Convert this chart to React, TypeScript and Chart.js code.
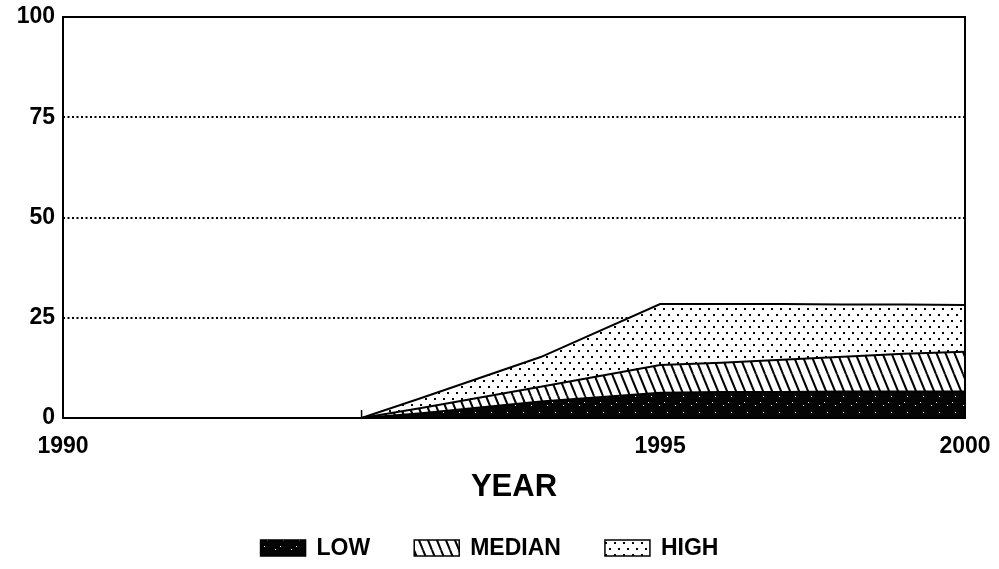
import { useEffect, useRef } from "react";
import { Chart, registerables, LinearScale } from "chart.js";

// ---- data ----
const YEARS = [1990, 1991, 1992, 1992.5, 1993, 1994, 1995, 1996, 1997, 1998, 1999, 2000];
const LOW = [0, 0, 0, 0, 1.2, 4.1, 6.3, 6.5, 6.5, 6.6, 6.6, 6.6];
const MEDIAN = [0, 0, 0, 0, 2.5, 7.8, 13.2, 13.8, 14.5, 15.3, 16.0, 16.5];
const HIGH = [0, 0, 0, 0, 5.0, 15.2, 28.4, 28.4, 28.4, 28.3, 28.3, 28.2];
const SERIES_NAMES = ["LOW", "MEDIAN", "HIGH"];
const X_TICKS = [1990, 1995, 2000];
const Y_TICKS = [0, 25, 50, 75, 100];
const X_TITLE = "YEAR";

// the original x axis is not linear in years: 1995 sits at ~66% of the width
const AXIS_BREAKS = [1990, 1995, 2000];
const AXIS_FRACTIONS = [0, 0.662, 1];

const FONT = "'Liberation Sans', Arial, Helvetica, sans-serif";

function yearToFraction(v: number): number {
  const b = AXIS_BREAKS, f = AXIS_FRACTIONS;
  if (v <= b[0]) return f[0] + ((v - b[0]) / (b[1] - b[0])) * (f[1] - f[0]);
  for (let i = 0; i < b.length - 1; i++) {
    if (v <= b[i + 1]) return f[i] + ((v - b[i]) / (b[i + 1] - b[i])) * (f[i + 1] - f[i]);
  }
  const n = b.length - 1;
  return f[n - 1] + ((v - b[n - 1]) / (b[n] - b[n - 1])) * (f[n] - f[n - 1]);
}
function fractionToYear(d: number): number {
  const b = AXIS_BREAKS, f = AXIS_FRACTIONS;
  for (let i = 0; i < f.length - 1; i++) {
    if (d <= f[i + 1] || i === f.length - 2) return b[i] + ((d - f[i]) / (f[i + 1] - f[i])) * (b[i + 1] - b[i]);
  }
  return b[b.length - 1];
}

class BrokenYearScale extends LinearScale {
  static id = "brokenYear";
  getPixelForValue(value: any) {
    if (value === null || value === undefined) return NaN;
    return this.getPixelForDecimal(yearToFraction(value));
  }
  getValueForPixel(pixel: number) {
    return fractionToYear(this.getDecimalForPixel(pixel));
  }
}

Chart.register(...registerables, BrokenYearScale as any);

function makePattern(kind: string): CanvasPattern | string {
  const c = document.createElement("canvas");
  const g = c.getContext("2d");
  if (!g) return "#000";
  if (kind === "low") {
    c.width = 16; c.height = 16;
    g.fillStyle = "#050505"; g.fillRect(0, 0, 16, 16);
    g.fillStyle = "#ffffff";
    g.fillRect(3, 5, 1, 1); g.fillRect(11, 12, 1, 1); g.fillRect(8, 2, 1, 1);
  } else if (kind === "median") {
    c.width = 9; c.height = 22;
    g.fillStyle = "#ffffff"; g.fillRect(0, 0, 9, 22);
    g.strokeStyle = "#000"; g.lineWidth = 2;
    for (let k = -1; k <= 1; k++) {
      g.beginPath(); g.moveTo(9 * k, 0); g.lineTo(9 * k + 9, 22); g.stroke();
    }
  } else {
    c.width = 9; c.height = 12;
    g.fillStyle = "#ffffff"; g.fillRect(0, 0, 9, 12);
    g.fillStyle = "#000";
    g.fillRect(2, 2, 2, 2); g.fillRect(6, 8, 2, 2);
  }
  const p = g.createPattern(c, "repeat");
  return p || "#000";
}

export default function App() {
  const ref = useRef<HTMLCanvasElement | null>(null);
  useEffect(() => {
    if (!ref.current) return;
    const patterns = [makePattern("low"), makePattern("median"), makePattern("high")];
    const seriesValues = [LOW, MEDIAN, HIGH];

    // year where the projections start rising (last year where HIGH is still zero)
    let startIdx = 0;
    HIGH.forEach((v, i) => { if (v === 0) startIdx = i; });
    const startYear = YEARS[startIdx];

    const frame = {
      id: "frame",
      afterDatasetsDraw(chart: any) {
        const { ctx, chartArea: a } = chart;
        ctx.save();
        ctx.strokeStyle = "#000";
        ctx.lineWidth = 2;
        ctx.strokeRect(a.left, a.top, a.right - a.left, a.bottom - a.top);
        const sx = chart.scales.x.getPixelForValue(startYear);
        ctx.lineWidth = 1.5;
        ctx.beginPath();
        ctx.moveTo(sx, a.bottom);
        ctx.lineTo(sx, a.bottom - 8);
        ctx.stroke();
        ctx.restore();
      },
    };

    const legend = {
      id: "patternLegend",
      afterDraw(chart: any) {
        const { ctx } = chart;
        ctx.save();
        ctx.font = `bold 23px ${FONT}`;
        const boxW = 45, boxH = 16, gap = 11, itemGap = 44;
        const widths = SERIES_NAMES.map((n) => boxW + gap + ctx.measureText(n).width);
        const total = widths.reduce((s, w) => s + w, 0) + itemGap * (widths.length - 1);
        let x = chart.width / 2 - 10 - total / 2;
        const cy = chart.height - 21;
        SERIES_NAMES.forEach((n, i) => {
          ctx.fillStyle = patterns[i];
          ctx.fillRect(x, cy - boxH / 2, boxW, boxH);
          ctx.strokeStyle = "#000";
          ctx.lineWidth = 1.5;
          ctx.strokeRect(x, cy - boxH / 2, boxW, boxH);
          ctx.fillStyle = "#000";
          ctx.textBaseline = "middle";
          ctx.textAlign = "left";
          ctx.fillText(n, x + boxW + gap, cy + 1);
          x += widths[i] + itemGap;
        });
        ctx.restore();
      },
    };

    const chart = new Chart(ref.current, {
      type: "line",
      data: {
        datasets: SERIES_NAMES.map((name, i) => ({
          label: name,
          data: YEARS.map((yr, j) => ({ x: yr, y: seriesValues[i][j] })),
          backgroundColor: patterns[i] as any,
          borderColor: "#000",
          borderWidth: 2,
          pointRadius: 0,
          tension: 0,
          fill: i === 0 ? "origin" : "-1",
        })),
      },
      options: {
        animation: false,
        responsive: true,
        maintainAspectRatio: false,
        layout: { padding: { top: 17, right: 34, left: 0, bottom: 63 } },
        plugins: { legend: { display: false }, tooltip: { enabled: false } },
        scales: {
          x: {
            type: "brokenYear" as any,
            min: 1990,
            max: 2000,
            afterBuildTicks: (s: any) => { s.ticks = X_TICKS.map((value) => ({ value })); },
            afterFit: (s: any) => { s.height = 88; s.paddingLeft = 0; s.paddingRight = 0; },
            ticks: {
              autoSkip: false,
              maxRotation: 0,
              padding: 7,
              color: "#000",
              font: { family: FONT, size: 23, weight: "bold" },
              callback: (v: any) => String(v),
            },
            grid: { display: false },
            border: { display: false },
            title: {
              display: true,
              text: X_TITLE,
              color: "#000",
              font: { family: FONT, size: 31, weight: "bold" },
              padding: { top: 9, bottom: 0 },
            },
          },
          y: {
            min: 0,
            max: 100,
            afterBuildTicks: (s: any) => { s.ticks = Y_TICKS.map((value) => ({ value })); },
            afterFit: (s: any) => { s.width = 63; s.paddingTop = 0; s.paddingBottom = 0; },
            ticks: {
              padding: 8,
              color: "#000",
              font: { family: FONT, size: 23, weight: "bold" },
              callback: (v: any) => String(v),
            },
            grid: {
              drawTicks: false,
              lineWidth: 2,
              color: (c: any) =>
                c.tick && (c.tick.value === 0 || c.tick.value === 100) ? "rgba(0,0,0,0)" : "#000",
            },
            border: { display: false, dash: [2, 2.5] },
          },
        },
      },
      plugins: [frame, legend],
    });
    return () => chart.destroy();
  }, []);

  return (
    <div style={{ position: "absolute", left: 0, top: 0, width: 999, height: 569, background: "#fff" }}>
      <canvas ref={ref} />
    </div>
  );
}
